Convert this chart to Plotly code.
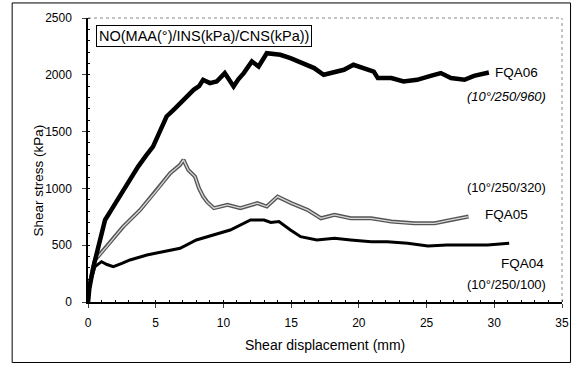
import plotly.graph_objects as go

# FQA06 (10°/250/960)
x06 = [0, 0.1, 0.4, 0.8, 1.26, 1.87, 2.6, 3.2, 3.7, 4.3, 4.8, 5.3, 5.8, 6.3, 6.8, 7.3, 7.8, 8.2, 8.5, 9.0, 9.5, 10.1, 10.4, 10.75, 11.1, 11.5, 12.1, 12.6, 13.2, 14.0, 14.2, 14.95,
       15.9, 16.7, 17.4, 18.2, 18.9, 19.6, 20.4, 21.1, 21.4, 22.4, 23.3, 24.3, 25.3, 26.05, 26.8, 27.8, 28.5, 29.6]
y06 = [0, 120, 311, 520, 722, 840, 987, 1090, 1192, 1290, 1368, 1500, 1633, 1690, 1750, 1810, 1868, 1900, 1956, 1927, 1941, 2015, 1960, 1897, 1960, 2015, 2117, 2073, 2190, 2180, 2176, 2147,
       2103, 2059, 2000, 2029, 2044, 2088, 2059, 2029, 1971, 1971, 1941, 1956, 1991, 2015, 1971, 1956, 1991, 2020]

# FQA05 (10°/250/320)
x05 = [0, 0.1, 0.52, 1.38, 2.6, 3.85, 5.1, 6.07, 6.8, 7.05, 7.4, 7.9, 8.2, 8.5, 8.8, 9.3, 10.3, 11.25, 12.5, 13.2, 14.0, 15.0,
       16.2, 17.2, 18.2, 19.4, 20.9, 22.4, 24.1, 25.6, 26.8, 28.1]
y05 = [0, 150, 370, 487, 663, 810, 987, 1134, 1207, 1251, 1163, 1104, 1000, 930, 880, 826, 855, 826, 870, 840, 928, 870,
       811, 737, 767, 737, 737, 708, 693, 693, 722, 752]

# FQA04 (10°/250/100)
x04 = [0, 0.1, 0.52, 1.0, 1.4, 1.87, 2.5, 3.1, 4.35, 5.6, 6.8, 8.0, 9.3, 10.5, 12.0, 13.0, 13.5, 14.1, 14.95, 15.7, 16.9, 18.2, 19.4, 20.9,
       22.1, 23.6, 25.1, 26.5, 28.0, 29.5, 31.1]
y04 = [0, 150, 311, 355, 330, 311, 340, 370, 414, 443, 473, 546, 590, 634, 722, 722, 700, 708, 634, 575, 546, 561, 546, 531,
       531, 517, 493, 502, 502, 502, 517]

x_ticks = [0, 5, 10, 15, 20, 25, 30, 35]
y_ticks = [0, 500, 1000, 1500, 2000, 2500]

FONT = "Liberation Sans, Arial, sans-serif"
NARROW = "Liberation Sans Narrow, Arial Narrow, Liberation Sans, sans-serif"

fig = go.Figure()
fig.add_trace(go.Scatter(x=x04, y=y04, mode="lines", line=dict(color="black", width=3), showlegend=False))
fig.add_trace(go.Scatter(x=x05, y=y05, mode="lines", line=dict(color="#555555", width=4), showlegend=False))
fig.add_trace(go.Scatter(x=x05, y=y05, mode="lines", line=dict(color="#d8d8d8", width=1.3), showlegend=False))
fig.add_trace(go.Scatter(x=x06, y=y06, mode="lines", line=dict(color="black", width=4.5), showlegend=False))

fig.update_layout(
    width=572, height=365,
    margin=dict(l=88, r=10, t=18, b=63, autoexpand=False),
    paper_bgcolor="white", plot_bgcolor="white",
    font=dict(family=FONT, color="black", size=11),
    xaxis=dict(range=[0, 35], tickvals=x_ticks, ticks="outside", ticklen=4, showgrid=False, zeroline=False,
               showline=True, linecolor="black", linewidth=1.5, automargin=False, ticklabelstandoff=5,
               minor=dict(dtick=1, ticks="inside", ticklen=2, tickcolor="black"),
               tickfont=dict(size=12, family=NARROW)),
    yaxis=dict(range=[0, 2500], tickvals=y_ticks, ticks="outside", ticklen=4, showgrid=False, zeroline=False,
               showline=True, linecolor="black", linewidth=1.5, automargin=False, ticklabelstandoff=8,
               minor=dict(dtick=100, ticks="inside", ticklen=2, tickcolor="black"),
               tickfont=dict(size=12, family=NARROW)),
    shapes=[
        dict(type="line", xref="paper", yref="paper", x0=0, x1=1, y0=1, y1=1,
             line=dict(color="#888888", width=1, dash="dot")),
        dict(type="line", xref="paper", yref="paper", x0=1, x1=1, y0=0, y1=1,
             line=dict(color="#888888", width=1, dash="dot")),
        dict(type="rect", xref="paper", yref="paper", x0=-0.160, x1=1.018, y0=-0.213, y1=1.053,
             line=dict(color="black", width=1)),
    ],
    annotations=[
        dict(text="Shear stress (kPa)", xref="paper", yref="paper", x=-0.1044, y=0.426, textangle=-90,
             xanchor="center", yanchor="middle", showarrow=False, font=dict(size=13.5)),
        dict(text="Shear displacement (mm)", xref="paper", yref="paper", x=0.5, y=-0.152,
             xanchor="center", yanchor="middle", showarrow=False, font=dict(size=14)),
        dict(text="NO(MAA(°)/INS(kPa)/CNS(kPa))", xref="paper", yref="paper", x=0.017, y=0.976,
             xanchor="left", yanchor="top", showarrow=False, font=dict(size=14.5),
             bordercolor="black", borderwidth=1, borderpad=2, bgcolor="white"),
        dict(text="FQA06", x=33.4, y=2016, xanchor="right", yanchor="middle", showarrow=False, font=dict(size=13.5)),
        dict(text="<i>(10°/250/960)</i>", x=34.0, y=1805, xanchor="right", yanchor="middle", showarrow=False, font=dict(size=13)),
        dict(text="(10°/250/320)", x=34.0, y=1004, xanchor="right", yanchor="middle", showarrow=False, font=dict(size=13)),
        dict(text="FQA05", x=32.65, y=766, xanchor="right", yanchor="middle", showarrow=False, font=dict(size=13.5)),
        dict(text="FQA04", x=33.85, y=335, xanchor="right", yanchor="middle", showarrow=False, font=dict(size=13.5)),
        dict(text="(10°/250/100)", x=34.0, y=150, xanchor="right", yanchor="middle", showarrow=False, font=dict(size=13)),
    ],
)

fig.write_html("out.html", config={"displayModeBar": False},
               post_script="document.body.style.margin='0';")
